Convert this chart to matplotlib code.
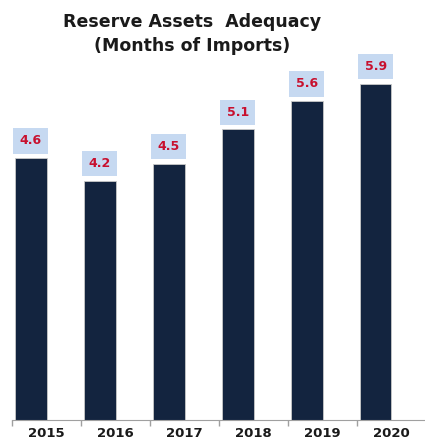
import matplotlib
matplotlib.use("Agg")
import matplotlib.pyplot as plt
import numpy as np

years = ["2015", "2016", "2017", "2018", "2019", "2020"]
values = [4.6, 4.2, 4.5, 5.1, 5.6, 5.9]
title = "Reserve Assets  Adequacy\n(Months of Imports)"

W, H = 425, 445
fig = plt.figure(figsize=(W / 100, H / 100), dpi=100)
ax = fig.add_axes([12 / W, (H - 420) / H, 414 / W, 420 / H])
x = np.arange(len(years))
ax.bar(x - 0.23, values, width=0.46, color="#13243f", edgecolor="#c8c8c8", linewidth=0.6, zorder=2)
ax.set_xlim(-0.5, len(years) - 0.5)
ax.set_ylim(0, 420 / 57)

for xi, v in zip(x, values):
    ax.annotate(f"{v:.1f}", (xi - 0.23, v), xytext=(0, 17), textcoords="offset pixels",
                ha="center", va="center", fontsize=9, fontweight="bold", color="#c8102e",
                bbox=dict(boxstyle="square,pad=0.5", fc="#c6d9f1", ec="none"))

ax.set_xticks(np.arange(len(years) + 1) - 0.5, minor=False)
ax.set_xticklabels([""] * (len(years) + 1))
ax.set_xticks(x, minor=True)
ax.set_xticklabels(years, minor=True, fontsize=9.5, fontweight="bold", color="#1a1a1a")
ax.tick_params(axis="x", which="major", length=4, color="#a0a0a0", width=1)
ax.tick_params(axis="x", which="minor", length=0, pad=5)
ax.set_yticks([])
for s in ["left", "right", "top"]:
    ax.spines[s].set_visible(False)
ax.spines["bottom"].set_color("#a0a0a0")

fig.text(192 / W, 1 - 34 / H, title, ha="center", va="center", fontsize=12.5,
         fontweight="bold", color="#1a1a1a", linespacing=1.45)

fig.savefig("out.png", dpi=100)
